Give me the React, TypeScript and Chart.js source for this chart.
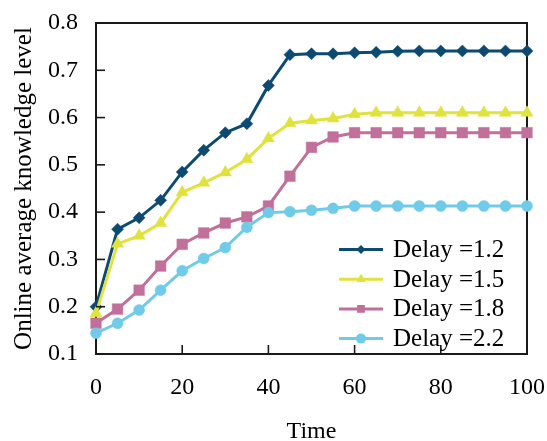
import React, { useEffect, useRef } from 'react';
import { Chart, registerables } from 'chart.js';

Chart.register(...registerables);

const time = [0, 5, 10, 15, 20, 25, 30, 35, 40, 45, 50, 55, 60, 65, 70, 75, 80, 85, 90, 95, 100];
const delay12 = [0.200, 0.364, 0.388, 0.425, 0.485, 0.531, 0.568, 0.587, 0.668, 0.733, 0.735, 0.735, 0.737, 0.738, 0.740, 0.741, 0.741, 0.741, 0.741, 0.741, 0.741];
const delay15 = [0.186, 0.333, 0.350, 0.377, 0.442, 0.462, 0.484, 0.512, 0.556, 0.588, 0.594, 0.598, 0.607, 0.610, 0.610, 0.610, 0.610, 0.610, 0.610, 0.610, 0.610];
const delay18 = [0.165, 0.195, 0.235, 0.286, 0.332, 0.356, 0.377, 0.390, 0.413, 0.476, 0.537, 0.559, 0.568, 0.568, 0.568, 0.568, 0.568, 0.568, 0.568, 0.568, 0.568];
const delay22 = [0.144, 0.165, 0.193, 0.235, 0.276, 0.302, 0.325, 0.368, 0.399, 0.401, 0.404, 0.408, 0.413, 0.413, 0.413, 0.413, 0.413, 0.413, 0.413, 0.413, 0.413];

const seriesValues = [delay12, delay15, delay18, delay22];
const seriesLabels = ['Delay =1.2', 'Delay =1.5', 'Delay =1.8', 'Delay =2.2'];
const seriesColors = ['#0c4a72', '#e0e23e', '#c0709a', '#70cbe8'];
const pointStyles = ['rectRot', 'triangle', 'rect', 'circle'];
const pointRadii = [6, 7, 7.5, 5.5];
const legendRadii = [4.5, 5.5, 5.5, 5];

const xTitle = 'Time';
const yTitle = 'Online average knowledge level';

const FONT = '"Liberation Serif", "Times New Roman", Times, serif';

function drawMarker(ctx: CanvasRenderingContext2D, style: string, x: number, y: number, r: number) {
  ctx.beginPath();
  if (style === 'circle') {
    ctx.arc(x, y, r, 0, Math.PI * 2);
  } else if (style === 'rect') {
    const s = r * Math.SQRT1_2;
    ctx.rect(x - s, y - s, 2 * s, 2 * s);
  } else if (style === 'rectRot') {
    ctx.moveTo(x - r, y);
    ctx.lineTo(x, y - r);
    ctx.lineTo(x + r, y);
    ctx.lineTo(x, y + r);
    ctx.closePath();
  } else if (style === 'triangle') {
    ctx.moveTo(x, y - r);
    ctx.lineTo(x + 0.866 * r, y + 0.5 * r);
    ctx.lineTo(x - 0.866 * r, y + 0.5 * r);
    ctx.closePath();
  }
  ctx.fill();
}

const framePlugin = {
  id: 'frameAndLegend',
  beforeDatasetsDraw(chart: any) {
    const { ctx, chartArea: a } = chart;
    ctx.save();
    ctx.strokeStyle = '#1a1a1a';
    ctx.lineWidth = 2;
    ctx.strokeRect(a.left, a.top, a.right - a.left, a.bottom - a.top);
    ctx.restore();
  },
  afterDatasetsDraw(chart: any) {
    const { ctx, chartArea: a } = chart;
    ctx.save();
    // legend
    const x0 = a.right - 188;
    const x1 = a.right - 144;
    const tx = a.right - 134;
    const y0 = a.bottom - 104.5;
    const step = 29.7;
    ctx.font = `25px ${FONT}`;
    ctx.textBaseline = 'middle';
    ctx.textAlign = 'left';
    seriesLabels.forEach((label, i) => {
      const y = y0 + i * step;
      ctx.strokeStyle = seriesColors[i];
      ctx.fillStyle = seriesColors[i];
      ctx.lineWidth = 3;
      ctx.beginPath();
      ctx.moveTo(x0, y);
      ctx.lineTo(x1, y);
      ctx.stroke();
      drawMarker(ctx, pointStyles[i], (x0 + x1) / 2, y, legendRadii[i]);
      ctx.fillStyle = '#000';
      ctx.fillText(label, tx, y + 1);
    });
    // inward ticks
    ctx.strokeStyle = '#1a1a1a';
    ctx.lineWidth = 1.6;
    const ys = chart.scales.y;
    ys.ticks.forEach((t: any) => {
      const py = ys.getPixelForValue(t.value);
      ctx.beginPath();
      ctx.moveTo(a.left, py);
      ctx.lineTo(a.left + 9, py);
      ctx.stroke();
    });
    const xs = chart.scales.x;
    xs.ticks.forEach((t: any) => {
      const px = xs.getPixelForValue(t.value);
      ctx.beginPath();
      ctx.moveTo(px, a.bottom);
      ctx.lineTo(px, a.bottom - 9);
      ctx.stroke();
    });
    ctx.restore();
  },
};

export default function App() {
  const canvasRef = useRef<HTMLCanvasElement | null>(null);

  useEffect(() => {
    if (!canvasRef.current) return;
    const datasets = seriesValues.map((vals, i) => ({
      label: seriesLabels[i],
      data: time.map((t, j) => ({ x: t, y: vals[j] })),
      borderColor: seriesColors[i],
      backgroundColor: seriesColors[i],
      borderWidth: 3,
      pointStyle: pointStyles[i] as any,
      pointRadius: pointRadii[i],
      pointBorderWidth: 0.5,
      pointBorderColor: seriesColors[i],
      pointBackgroundColor: seriesColors[i],
      pointHoverRadius: pointRadii[i],
      tension: 0,
      clip: false as any,
      order: 3 - i,
    }));

    const chart = new Chart(canvasRef.current, {
      type: 'line',
      data: { datasets },
      options: {
        animation: false,
        responsive: false,
        devicePixelRatio: 1,
        events: [],
        layout: { padding: { top: 23, right: 20, left: 0, bottom: 0 } },
        plugins: {
          legend: { display: false },
          tooltip: { enabled: false },
        },
        scales: {
          x: {
            type: 'linear',
            min: 0,
            max: 100,
            afterFit: (s: any) => {
              s.height = 87;
              s.paddingLeft = 0;
              s.paddingRight = 0;
              s.paddingTop = 0;
              s.paddingBottom = 0;
            },
            grid: { display: false, drawTicks: false },
            border: { display: false },
            ticks: {
              stepSize: 20,
              padding: 19,
              color: '#000',
              font: { family: FONT, size: 24, lineHeight: 1.2 },
            },
            title: {
              display: true,
              text: xTitle,
              color: '#000',
              font: { family: FONT, size: 24, lineHeight: 0.8 },
              padding: { top: 0, bottom: 0 },
            },
          },
          y: {
            type: 'linear',
            min: 0.1,
            max: 0.8,
            afterFit: (s: any) => {
              s.width = 96;
              s.paddingLeft = 0;
              s.paddingRight = 0;
              s.paddingTop = 0;
              s.paddingBottom = 0;
            },
            grid: { display: false, drawTicks: false },
            border: { display: false },
            ticks: {
              stepSize: 0.1,
              padding: 18,
              color: '#000',
              font: { family: FONT, size: 24, lineHeight: 1.2 },
              callback: (v: any) => Number(v).toFixed(1),
            },
            title: {
              display: true,
              text: yTitle,
              color: '#000',
              font: { family: FONT, size: 25, lineHeight: 1.2 },
              padding: { top: 9, bottom: 0 },
            },
          },
        },
      },
      plugins: [framePlugin],
    });
    return () => chart.destroy();
  }, []);

  return (
    <div style={{ position: 'fixed', left: 0, top: 0, width: 547, height: 441, background: '#fff' }}>
      <canvas ref={canvasRef} width={547} height={441} style={{ width: 547, height: 441, display: 'block' }} />
    </div>
  );
}
